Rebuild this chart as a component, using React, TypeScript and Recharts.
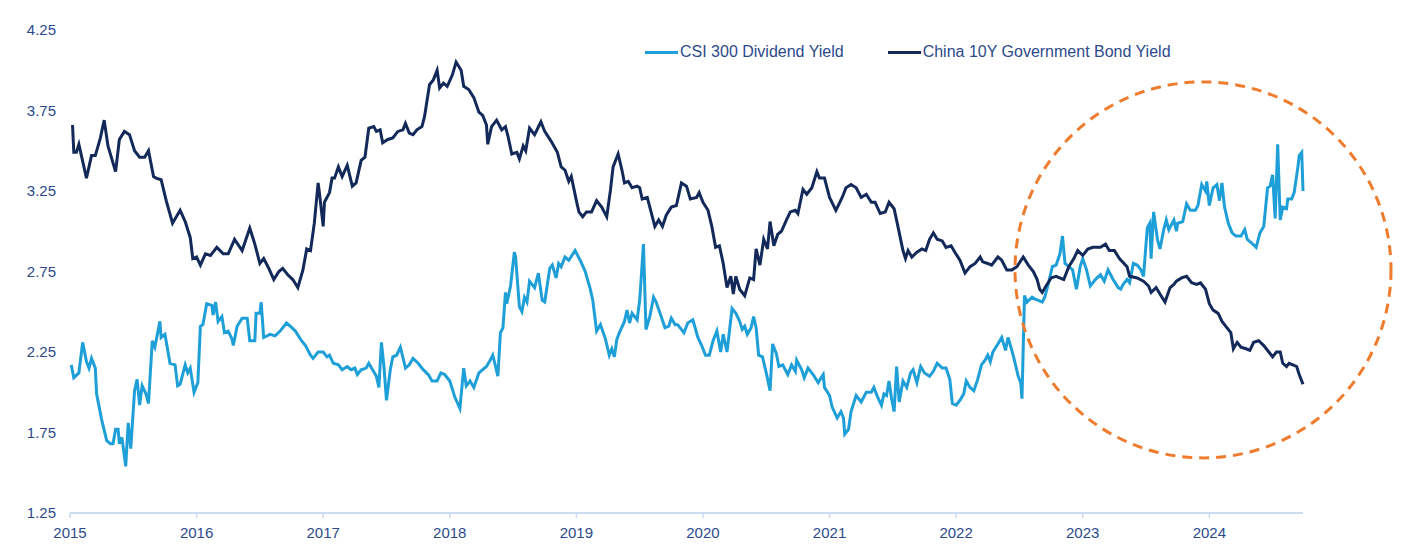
import { LineChart, Line, XAxis, YAxis, ReferenceDot } from "recharts";

// decimal years
const csiYears = [
  2015.01, 2015.03, 2015.07, 2015.1, 2015.13, 2015.15, 2015.17, 2015.2, 2015.21, 2015.25, 2015.29, 2015.32, 2015.34,
  2015.36, 2015.38, 2015.39, 2015.41, 2015.44, 2015.46, 2015.48, 2015.51, 2015.53, 2015.55, 2015.57, 2015.6, 2015.62,
  2015.65, 2015.67, 2015.71, 2015.72, 2015.75, 2015.79, 2015.83, 2015.85, 2015.87, 2015.91, 2015.93, 2015.95, 2015.98,
  2016.01, 2016.03, 2016.05, 2016.08, 2016.12, 2016.13, 2016.15, 2016.17, 2016.2, 2016.22, 2016.25, 2016.28, 2016.29,
  2016.32, 2016.36, 2016.4, 2016.42, 2016.46, 2016.47, 2016.5, 2016.51, 2016.53, 2016.58, 2016.62, 2016.66, 2016.71,
  2016.74, 2016.78, 2016.82, 2016.86, 2016.9, 2016.92, 2016.96, 2017.0, 2017.03, 2017.05, 2017.08, 2017.12, 2017.15,
  2017.19, 2017.22, 2017.25, 2017.27, 2017.3, 2017.34, 2017.36, 2017.39, 2017.42, 2017.44, 2017.46, 2017.48, 2017.5,
  2017.53, 2017.55, 2017.58, 2017.61, 2017.65, 2017.68, 2017.71, 2017.75, 2017.79, 2017.83, 2017.86, 2017.9, 2017.93,
  2017.96, 2018.0, 2018.04, 2018.08, 2018.11, 2018.13, 2018.16, 2018.19, 2018.23, 2018.26, 2018.29, 2018.32, 2018.34,
  2018.38, 2018.4, 2018.42, 2018.44, 2018.45, 2018.48, 2018.51, 2018.52, 2018.55, 2018.57, 2018.59, 2018.61, 2018.63,
  2018.67, 2018.7, 2018.73, 2018.75, 2018.79, 2018.81, 2018.84, 2018.86, 2018.88, 2018.91, 2018.94, 2018.99, 2019.03,
  2019.07, 2019.11, 2019.13, 2019.16, 2019.19, 2019.23, 2019.26, 2019.28, 2019.3, 2019.32, 2019.34, 2019.38, 2019.4,
  2019.42, 2019.44, 2019.48, 2019.5, 2019.53, 2019.55, 2019.58, 2019.61, 2019.63, 2019.67, 2019.7, 2019.73, 2019.75,
  2019.78, 2019.8, 2019.85, 2019.88, 2019.92, 2019.96, 2019.99, 2020.02, 2020.05, 2020.08, 2020.11, 2020.14, 2020.16,
  2020.19, 2020.23, 2020.26, 2020.29, 2020.31, 2020.33, 2020.35, 2020.38, 2020.4, 2020.42, 2020.44, 2020.47, 2020.5,
  2020.53, 2020.55, 2020.58, 2020.6, 2020.63, 2020.67, 2020.7, 2020.73, 2020.74, 2020.78, 2020.8, 2020.83, 2020.87,
  2020.91, 2020.95, 2020.96, 2021.0, 2021.02, 2021.06, 2021.09, 2021.11, 2021.12, 2021.15, 2021.17, 2021.21, 2021.25,
  2021.29, 2021.33, 2021.35, 2021.38, 2021.41, 2021.43, 2021.45, 2021.47, 2021.49, 2021.51, 2021.53, 2021.55, 2021.58,
  2021.61, 2021.64, 2021.66, 2021.69, 2021.72, 2021.75, 2021.79, 2021.82, 2021.85, 2021.89, 2021.92, 2021.95, 2021.97,
  2022.0, 2022.03, 2022.06, 2022.08, 2022.11, 2022.14, 2022.17, 2022.2, 2022.23, 2022.25, 2022.27, 2022.29, 2022.33,
  2022.36, 2022.39, 2022.41, 2022.44, 2022.46, 2022.49, 2022.51, 2022.52, 2022.54, 2022.56, 2022.6, 2022.62, 2022.65,
  2022.68, 2022.7, 2022.73, 2022.76, 2022.79, 2022.82, 2022.84, 2022.86, 2022.89, 2022.92, 2022.95, 2022.98, 2023.0,
  2023.03, 2023.06, 2023.1, 2023.14, 2023.17, 2023.2, 2023.24, 2023.28, 2023.3, 2023.32, 2023.35, 2023.37, 2023.4,
  2023.43, 2023.46, 2023.48, 2023.51, 2023.53, 2023.54, 2023.56, 2023.59, 2023.61, 2023.64, 2023.66, 2023.68, 2023.72,
  2023.74, 2023.75, 2023.79, 2023.82, 2023.85, 2023.89, 2023.91, 2023.94, 2023.97, 2023.98, 2024.0, 2024.03, 2024.06,
  2024.08, 2024.1, 2024.12, 2024.15, 2024.18, 2024.21, 2024.25, 2024.28, 2024.3, 2024.33, 2024.37, 2024.4, 2024.43,
  2024.46, 2024.48, 2024.5, 2024.52, 2024.54, 2024.56, 2024.58, 2024.61, 2024.62, 2024.65, 2024.67, 2024.7, 2024.71,
  2024.73, 2024.74,
];
const csiValues = [
  2.17, 2.09, 2.12, 2.31, 2.19, 2.15, 2.21, 2.15, 1.99, 1.83, 1.7, 1.68, 1.68,
  1.77, 1.77, 1.68, 1.72, 1.54, 1.81, 1.65, 2.01, 2.08, 1.92, 2.04, 1.99, 1.93,
  2.32, 2.28, 2.44, 2.34, 2.36, 2.18, 2.17, 2.04, 2.05, 2.17, 2.12, 2.15, 2.0,
  2.06, 2.41, 2.42, 2.55, 2.54, 2.48, 2.56, 2.44, 2.47, 2.37, 2.38, 2.33, 2.29,
  2.41, 2.46, 2.46, 2.32, 2.32, 2.49, 2.49, 2.56, 2.34, 2.36, 2.35, 2.38, 2.43,
  2.41, 2.38, 2.33, 2.29, 2.23, 2.21, 2.25, 2.25, 2.22, 2.23, 2.18, 2.17, 2.14,
  2.16, 2.14, 2.15, 2.11, 2.14, 2.15, 2.18, 2.14, 2.1, 2.03, 2.31, 2.16, 1.95,
  2.14, 2.22, 2.23, 2.28, 2.15, 2.17, 2.21, 2.18, 2.14, 2.11, 2.07, 2.07, 2.12,
  2.11, 2.07, 1.97, 1.9, 2.15, 2.04, 2.07, 2.03, 2.12, 2.14, 2.16, 2.2, 2.23,
  2.1, 2.37, 2.4, 2.62, 2.55, 2.66, 2.87, 2.84, 2.53, 2.5, 2.59, 2.56, 2.69,
  2.65, 2.74, 2.57, 2.56, 2.77, 2.79, 2.71, 2.8, 2.78, 2.84, 2.82, 2.88, 2.82,
  2.75, 2.64, 2.57, 2.38, 2.42, 2.33, 2.23, 2.27, 2.22, 2.33, 2.37, 2.44, 2.51,
  2.43, 2.49, 2.45, 2.57, 2.92, 2.39, 2.47, 2.59, 2.56, 2.47, 2.4, 2.41, 2.46,
  2.42, 2.42, 2.37, 2.43, 2.45, 2.34, 2.29, 2.23, 2.23, 2.32, 2.38, 2.25, 2.36,
  2.25, 2.52, 2.49, 2.44, 2.39, 2.41, 2.36, 2.4, 2.47, 2.4, 2.23, 2.22, 2.12,
  2.01, 2.3, 2.24, 2.16, 2.17, 2.11, 2.17, 2.13, 2.2, 2.14, 2.09, 2.15, 2.11,
  2.06, 2.11, 2.03, 1.98, 1.91, 1.84, 1.88, 1.84, 1.74, 1.77, 1.88, 1.98, 1.94,
  2.0, 2.0, 2.03, 1.97, 1.92, 1.99, 1.98, 2.07, 1.96, 1.88, 2.16, 1.94, 2.07,
  2.03, 2.12, 2.14, 2.06, 2.16, 2.12, 2.1, 2.13, 2.18, 2.15, 2.15, 2.08, 1.93,
  1.92, 1.95, 1.99, 2.07, 2.03, 2.01, 2.08, 2.17, 2.2, 2.23, 2.19, 2.25, 2.3,
  2.34, 2.26, 2.34, 2.26, 2.2, 2.1, 2.06, 1.96, 2.6, 2.56, 2.59, 2.58, 2.57,
  2.56, 2.59, 2.68, 2.78, 2.79, 2.86, 2.97, 2.8, 2.78, 2.76, 2.64, 2.78, 2.83,
  2.76, 2.66, 2.7, 2.73, 2.69, 2.76, 2.7, 2.65, 2.64, 2.67, 2.7, 2.68, 2.8,
  2.79, 2.76, 2.72, 3.02, 3.05, 2.83, 3.12, 2.95, 2.89, 3.01, 3.07, 3.01, 3.07,
  3.0, 3.05, 3.06, 3.17, 3.13, 3.13, 3.16, 3.29, 3.25, 3.31, 3.16, 3.27, 3.29,
  3.19, 3.3, 3.15, 3.05, 2.99, 2.97, 2.97, 3.01, 2.95, 2.93, 2.9, 2.99, 3.03,
  3.27, 3.28, 3.35, 3.08, 3.54, 3.07, 3.15, 3.14, 3.2, 3.2, 3.24, 3.4, 3.47,
  3.49, 3.25,
];

const bondYears = [
  2015.02, 2015.03, 2015.05, 2015.07, 2015.13, 2015.17, 2015.2, 2015.24, 2015.27, 2015.3, 2015.36, 2015.39, 2015.43,
  2015.47, 2015.51, 2015.55, 2015.59, 2015.62, 2015.66, 2015.68, 2015.72, 2015.76, 2015.81, 2015.87, 2015.91, 2015.95,
  2015.97, 2016.0, 2016.03, 2016.07, 2016.11, 2016.16, 2016.21, 2016.25, 2016.3, 2016.36, 2016.42, 2016.46, 2016.5,
  2016.53, 2016.57, 2016.61, 2016.65, 2016.68, 2016.72, 2016.76, 2016.8, 2016.84, 2016.87, 2016.9, 2016.93, 2016.96,
  2016.97, 2017.0, 2017.01, 2017.05, 2017.07, 2017.09, 2017.12, 2017.15, 2017.19, 2017.23, 2017.26, 2017.3, 2017.33,
  2017.36, 2017.4, 2017.42, 2017.45, 2017.47, 2017.51, 2017.55, 2017.59, 2017.63, 2017.65, 2017.68, 2017.71, 2017.74,
  2017.78, 2017.8, 2017.84, 2017.87, 2017.9, 2017.92, 2017.95, 2017.98, 2018.02, 2018.05, 2018.09, 2018.11, 2018.15,
  2018.19, 2018.23, 2018.26, 2018.29, 2018.3, 2018.33, 2018.37, 2018.41, 2018.44, 2018.46, 2018.49, 2018.53, 2018.55,
  2018.58, 2018.6, 2018.63, 2018.67, 2018.72, 2018.75, 2018.8, 2018.85, 2018.88, 2018.91, 2018.94, 2018.96, 2019.0,
  2019.02, 2019.05, 2019.08, 2019.12, 2019.16, 2019.2, 2019.24, 2019.27, 2019.29, 2019.33, 2019.36, 2019.38, 2019.41,
  2019.44, 2019.48, 2019.5, 2019.52, 2019.56, 2019.59, 2019.62, 2019.65, 2019.68, 2019.71, 2019.75, 2019.79, 2019.83,
  2019.87, 2019.9, 2019.95, 2019.97, 2020.0, 2020.04, 2020.07, 2020.1, 2020.13, 2020.16, 2020.19, 2020.22, 2020.24,
  2020.26, 2020.29, 2020.33, 2020.37, 2020.4, 2020.42, 2020.45, 2020.48, 2020.51, 2020.53, 2020.56, 2020.59, 2020.62,
  2020.66, 2020.69, 2020.73, 2020.75, 2020.79, 2020.82, 2020.86, 2020.9, 2020.92, 2020.96, 2021.0, 2021.05, 2021.1,
  2021.13, 2021.17, 2021.21, 2021.25, 2021.29, 2021.33, 2021.36, 2021.4, 2021.44, 2021.47, 2021.51, 2021.54, 2021.58,
  2021.6, 2021.62, 2021.65, 2021.69, 2021.73, 2021.76, 2021.79, 2021.82, 2021.85, 2021.89, 2021.92, 2021.96, 2021.99,
  2022.03, 2022.07, 2022.11, 2022.15, 2022.19, 2022.21, 2022.25, 2022.28, 2022.33, 2022.36, 2022.4, 2022.44, 2022.48,
  2022.53, 2022.57, 2022.61, 2022.64, 2022.66, 2022.68, 2022.71, 2022.75, 2022.79, 2022.85, 2022.89, 2022.93, 2022.96,
  2023.0, 2023.04, 2023.08, 2023.14, 2023.18, 2023.21, 2023.25, 2023.29, 2023.35, 2023.37, 2023.43, 2023.48, 2023.52,
  2023.54, 2023.58, 2023.61, 2023.65, 2023.69, 2023.72, 2023.74, 2023.78, 2023.82, 2023.86, 2023.9, 2023.93, 2023.97,
  2024.0, 2024.03, 2024.07, 2024.1, 2024.14, 2024.17, 2024.19, 2024.22, 2024.25, 2024.29, 2024.32, 2024.35, 2024.39,
  2024.43, 2024.47, 2024.5, 2024.53, 2024.56, 2024.58, 2024.61, 2024.63, 2024.66, 2024.69, 2024.71, 2024.74,
];
const bondValues = [
  3.66, 3.49, 3.49, 3.54, 3.33, 3.47, 3.47, 3.58, 3.69, 3.53, 3.37, 3.57, 3.62,
  3.6, 3.5, 3.46, 3.46, 3.5, 3.34, 3.33, 3.32, 3.19, 3.05, 3.13, 3.06, 2.96,
  2.83, 2.84, 2.79, 2.86, 2.85, 2.9, 2.86, 2.86, 2.95, 2.88, 3.02, 2.92, 2.8,
  2.83, 2.77, 2.7, 2.75, 2.77, 2.73, 2.7, 2.65, 2.76, 2.89, 2.88, 3.05, 3.3,
  3.24, 3.03, 3.18, 3.24, 3.33, 3.33, 3.4, 3.34, 3.41, 3.28, 3.3, 3.44, 3.46,
  3.64, 3.65, 3.62, 3.63, 3.55, 3.57, 3.58, 3.62, 3.63, 3.67, 3.61, 3.6, 3.63,
  3.65, 3.71, 3.91, 3.94, 4.0, 3.89, 3.92, 3.9, 3.97, 4.05, 4.0, 3.9, 3.88,
  3.83, 3.74, 3.72, 3.66, 3.54, 3.65, 3.69, 3.63, 3.65, 3.59, 3.48, 3.49, 3.45,
  3.53, 3.5, 3.64, 3.6, 3.68, 3.62, 3.56, 3.49, 3.4, 3.38, 3.31, 3.34, 3.19,
  3.12, 3.09, 3.12, 3.12, 3.19, 3.15, 3.09, 3.26, 3.4, 3.48, 3.38, 3.3, 3.31,
  3.27, 3.28, 3.27, 3.2, 3.21, 3.12, 3.03, 3.07, 3.03, 3.1, 3.15, 3.16, 3.3,
  3.28, 3.2, 3.21, 3.24, 3.18, 3.13, 3.03, 2.9, 2.91, 2.8, 2.65, 2.72, 2.61,
  2.72, 2.64, 2.6, 2.71, 2.7, 2.89, 2.79, 2.95, 2.89, 3.06, 2.91, 2.98, 3.0,
  3.07, 3.12, 3.13, 3.11, 3.26, 3.23, 3.27, 3.37, 3.33, 3.33, 3.21, 3.13, 3.21,
  3.27, 3.29, 3.27, 3.21, 3.23, 3.18, 3.18, 3.11, 3.12, 3.18, 3.14, 3.03, 2.88,
  2.83, 2.88, 2.84, 2.87, 2.89, 2.88, 2.95, 2.99, 2.95, 2.94, 2.9, 2.91, 2.87,
  2.82, 2.74, 2.78, 2.8, 2.84, 2.81, 2.8, 2.79, 2.84, 2.82, 2.76, 2.76, 2.78,
  2.84, 2.79, 2.75, 2.7, 2.64, 2.62, 2.66, 2.71, 2.72, 2.7, 2.78, 2.83, 2.88,
  2.85, 2.89, 2.9, 2.9, 2.92, 2.88, 2.88, 2.83, 2.78, 2.72, 2.71, 2.69, 2.66,
  2.62, 2.65, 2.61, 2.56, 2.65, 2.67, 2.69, 2.71, 2.72, 2.68, 2.67, 2.68, 2.64,
  2.55, 2.51, 2.49, 2.44, 2.4, 2.37, 2.27, 2.31, 2.28, 2.27, 2.26, 2.31, 2.32,
  2.29, 2.25, 2.22, 2.25, 2.25, 2.18, 2.16, 2.18, 2.17, 2.16, 2.11, 2.05,
];

const yearTicks = [2015, 2016, 2017, 2018, 2019, 2020, 2021, 2022, 2023, 2024];
const yieldTicks = [1.25, 1.75, 2.25, 2.75, 3.25, 3.75, 4.25];

const csiData = csiYears.map((t, i) => ({ t, v: csiValues[i] }));
const bondData = bondYears.map((t, i) => ({ t, v: bondValues[i] }));

const LIGHT = "#1f9fd8";
const NAVY = "#12295a";
const TEXT = "#2c4a8c";
const FONT = "'Liberation Sans', Arial, sans-serif";

function LegendBox() {
  const item = (color: string, label: string) => (
    <span style={{ display: "inline-flex", alignItems: "center" }}>
      <span style={{ display: "inline-block", width: 33, height: 3, background: color, marginRight: 2 }} />
      <span>{label}</span>
    </span>
  );
  return (
    <div
      style={{
        position: "absolute",
        top: 42,
        left: 645,
        display: "flex",
        gap: 44,
        fontFamily: FONT,
        fontSize: 16,
        lineHeight: "20px",
        color: TEXT,
        whiteSpace: "nowrap",
      }}
    >
      {item(LIGHT, "CSI 300 Dividend Yield")}
      {item(NAVY, "China 10Y Government Bond Yield")}
    </div>
  );
}

export default function App() {
  return (
    <div style={{ position: "absolute", left: 0, top: 0, width: 1408, height: 556, background: "#fff" }}>
      <LineChart width={1408} height={556} margin={{ top: 30, right: 105, bottom: 0, left: 0 }}>
        <XAxis
          dataKey="t"
          type="number"
          domain={[2015, 2024.74]}
          ticks={yearTicks}
          allowDuplicatedCategory={false}
          height={43}
          tick={{ fontSize: 15, fill: TEXT, fontFamily: FONT }}
          tickSize={5}
          tickMargin={9}
          axisLine={{ stroke: "#c9dcf2", strokeWidth: 2 }}
          tickLine={{ stroke: "#c9dcf2", strokeWidth: 1.5 }}
        />
        <YAxis
          type="number"
          domain={[1.25, 4.25]}
          ticks={yieldTicks}
          width={70}
          tickFormatter={(v) => v.toFixed(2)}
          tick={{ fontSize: 15, fill: TEXT, fontFamily: FONT }}
          tickMargin={8}
          axisLine={false}
          tickLine={false}
        />
        <Line
          data={csiData}
          dataKey="v"
          name="CSI 300 Dividend Yield"
          stroke={LIGHT}
          strokeWidth={3}
          dot={false}
          isAnimationActive={false}
          type="linear"
        />
        <Line
          data={bondData}
          dataKey="v"
          name="China 10Y Government Bond Yield"
          stroke={NAVY}
          strokeWidth={3}
          dot={false}
          isAnimationActive={false}
          type="linear"
        />
        <ReferenceDot
          x={2023.95}
          y={2.76}
          r={188}
          fill="none"
          stroke="#ef7b2d"
          strokeWidth={3}
          strokeDasharray="10 7"
          ifOverflow="visible"
        />
      </LineChart>
      <LegendBox />
    </div>
  );
}
